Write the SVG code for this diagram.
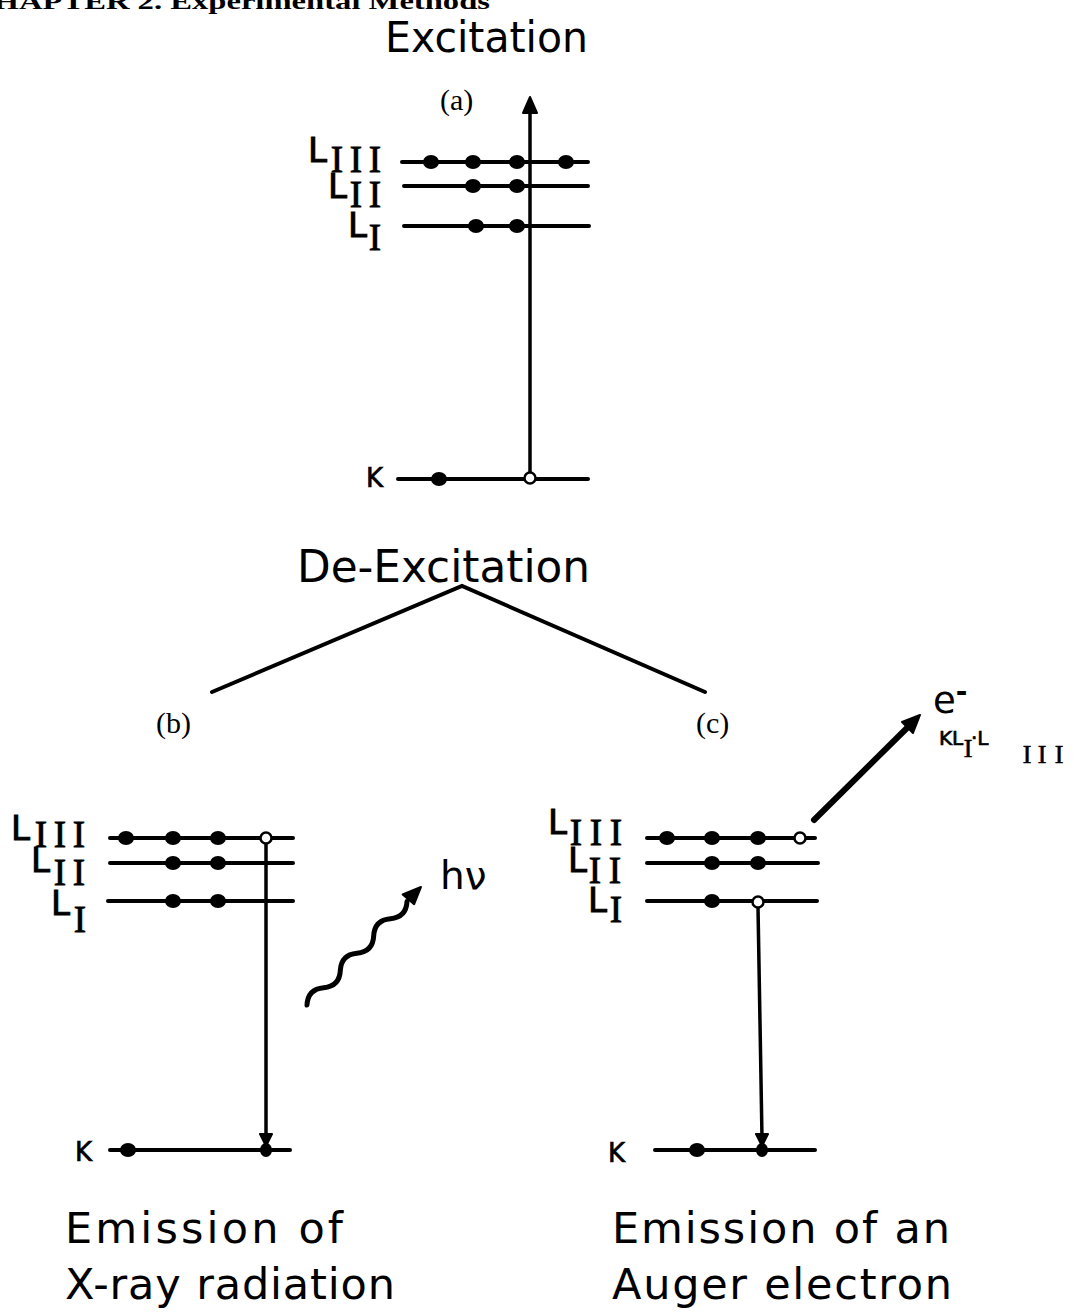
<svg xmlns="http://www.w3.org/2000/svg" width="1075" height="1315" viewBox="0 0 1075 1315">
<style>
.lv{stroke:#000;stroke-width:4;stroke-linecap:round;fill:none}
.tr{stroke:#000;stroke-width:3.5;fill:none}
.dot{fill:#000}
.hole{fill:#fff;stroke:#000;stroke-width:2.5}
.lab{font-family:"DejaVu Sans",sans-serif;font-size:34px;fill:#000;stroke:#000;stroke-width:1}
.rn{font-family:"Liberation Serif",serif;font-size:37px;text-anchor:middle;stroke:#000;stroke-width:0.9}
.rn2{font-family:"Liberation Serif",serif;font-size:26px;text-anchor:middle;stroke:#000;stroke-width:0.6}
.sans{font-family:"DejaVu Sans",sans-serif;fill:#000}
.kl{stroke:#000;stroke-width:0.7}
.serif{font-family:"Liberation Serif",serif;fill:#000}
.head{fill:#000;stroke:#000;stroke-width:2;stroke-linejoin:round}
</style>
<rect width="1075" height="1315" fill="#fff"/>
<text class="serif" x="-30" y="9" font-size="24" font-weight="bold" textLength="520" lengthAdjust="spacingAndGlyphs">CHAPTER 2. Experimental Methods</text>

<g id="title-excitation">
<text class="sans" x="385" y="52" font-size="42" textLength="203" lengthAdjust="spacingAndGlyphs">Excitation</text>
</g>

<g id="panel-a">
<text class="serif" x="440" y="110" font-size="30">(a)</text>
<line class="lv" x1="402" y1="162" x2="588" y2="162"/>
<line class="lv" x1="404" y1="186" x2="588" y2="186"/>
<line class="lv" x1="404" y1="226" x2="589" y2="226"/>
<line class="lv" x1="398" y1="479" x2="588" y2="479"/>
<ellipse class="dot" cx="431" cy="162" rx="8" ry="7"/>
<ellipse class="dot" cx="473" cy="162" rx="8" ry="7"/>
<ellipse class="dot" cx="517" cy="162" rx="8" ry="7"/>
<ellipse class="dot" cx="566" cy="162" rx="8" ry="7"/>
<ellipse class="dot" cx="473" cy="186" rx="8" ry="7"/>
<ellipse class="dot" cx="517" cy="186" rx="8" ry="7"/>
<ellipse class="dot" cx="476" cy="226" rx="8" ry="7"/>
<ellipse class="dot" cx="517" cy="226" rx="8" ry="7"/>
<ellipse class="dot" cx="439" cy="479" rx="8" ry="7"/>
<line class="tr" x1="530" y1="473" x2="530" y2="110"/>
<path class="head" d="M530,97 L537,113 L523,113 Z"/>
<circle class="hole" cx="530" cy="478" r="5.5"/>
<text class="lab" x="308" y="162">L<tspan class="rn" x="337" y="172">I</tspan><tspan class="rn" x="356">I</tspan><tspan class="rn" x="375">I</tspan></text>
<text class="lab" x="328" y="198">L<tspan class="rn" x="356" y="207">I</tspan><tspan class="rn" x="375">I</tspan></text>
<text class="lab" x="348" y="237">L<tspan class="rn" x="375" y="250">I</tspan></text>
<text class="sans kl" x="366" y="487" font-size="26">K</text>
</g>

<g id="title-deexcitation">
<text class="sans" x="297" y="582" font-size="44" textLength="293" lengthAdjust="spacingAndGlyphs">De-Excitation</text>
</g>

<g id="connectors">
<polyline class="lv" points="212,692 462,586 705,692"/>
</g>

<g id="panel-b">
<text class="serif" x="156" y="733" font-size="30">(b)</text>
<line class="lv" x1="110" y1="838" x2="293" y2="838"/>
<line class="lv" x1="110" y1="863" x2="293" y2="863"/>
<line class="lv" x1="108" y1="901" x2="293" y2="901"/>
<line class="lv" x1="110" y1="1150" x2="290" y2="1150"/>
<ellipse class="dot" cx="126" cy="838" rx="8" ry="7"/>
<ellipse class="dot" cx="173" cy="838" rx="8" ry="7"/>
<ellipse class="dot" cx="218" cy="838" rx="8" ry="7"/>
<ellipse class="dot" cx="173" cy="863" rx="8" ry="7"/>
<ellipse class="dot" cx="218" cy="863" rx="8" ry="7"/>
<ellipse class="dot" cx="173" cy="901" rx="8" ry="7"/>
<ellipse class="dot" cx="218" cy="901" rx="8" ry="7"/>
<ellipse class="dot" cx="128" cy="1150" rx="8" ry="7"/>
<line class="tr" x1="266" y1="843" x2="266" y2="1138"/>
<path class="head" d="M266,1146 L260,1134 L272,1134 Z"/>
<ellipse class="dot" cx="266" cy="1150" rx="6" ry="7"/>
<circle class="hole" cx="266" cy="838" r="5.5"/>
<text class="lab" x="11" y="840">L<tspan class="rn" x="41" y="847">I</tspan><tspan class="rn" x="60">I</tspan><tspan class="rn" x="79">I</tspan></text>
<text class="lab" x="31" y="872">L<tspan class="rn" x="60" y="885">I</tspan><tspan class="rn" x="79">I</tspan></text>
<text class="lab" x="51" y="915">L<tspan class="rn" x="80" y="932">I</tspan></text>
<text class="sans kl" x="75" y="1161" font-size="26">K</text>
<path stroke="#000" stroke-width="5" fill="none" stroke-linecap="round" transform="translate(307,1005) rotate(-46)" d="M0,0 c8,-7 16,-7 24,0 s16,7 24,0 s16,-7 24,0 s16,7 24,0 s16,-7 24,0 s16,7 24,0"/>
<path class="head" transform="translate(307,1005) rotate(-46)" d="M164,0 L146,-8 L147,7 Z"/>
<text class="sans" x="440" y="889" font-size="39">hν</text>
</g>

<g id="panel-c">
<text class="serif" x="696" y="733" font-size="30">(c)</text>
<line class="lv" x1="647" y1="838" x2="815" y2="838"/>
<line class="lv" x1="647" y1="863" x2="818" y2="863"/>
<line class="lv" x1="647" y1="901" x2="817" y2="901"/>
<line class="lv" x1="655" y1="1150" x2="815" y2="1150"/>
<ellipse class="dot" cx="667" cy="838" rx="8" ry="7"/>
<ellipse class="dot" cx="712" cy="838" rx="8" ry="7"/>
<ellipse class="dot" cx="758" cy="838" rx="8" ry="7"/>
<ellipse class="dot" cx="712" cy="863" rx="8" ry="7"/>
<ellipse class="dot" cx="758" cy="863" rx="8" ry="7"/>
<ellipse class="dot" cx="712" cy="901" rx="8" ry="7"/>
<ellipse class="dot" cx="697" cy="1150" rx="8" ry="7"/>
<line class="tr" x1="758" y1="907" x2="762" y2="1138"/>
<path class="head" d="M762,1146 L756,1134 L768,1134 Z"/>
<ellipse class="dot" cx="762" cy="1150" rx="6" ry="7"/>
<circle class="hole" cx="758" cy="902" r="5.5"/>
<circle class="hole" cx="800" cy="838" r="5.5"/>
<text class="lab" x="548" y="834">L<tspan class="rn" x="576" y="845">I</tspan><tspan class="rn" x="596">I</tspan><tspan class="rn" x="616">I</tspan></text>
<text class="lab" x="568" y="872">L<tspan class="rn" x="595" y="883">I</tspan><tspan class="rn" x="615">I</tspan></text>
<text class="lab" x="588" y="912">L<tspan class="rn" x="616" y="922">I</tspan></text>
<text class="sans kl" x="608" y="1162" font-size="26">K</text>
<line x1="814" y1="820" x2="907" y2="728" stroke="#000" stroke-width="6" stroke-linecap="round"/>
<path class="head" d="M920,715 L902,722 L913,733 Z"/>
<text class="sans" x="933" y="713" font-size="37">e<tspan dy="-12" font-size="28" font-weight="bold">-</tspan></text>
<text class="sans kl" x="939" y="745" font-size="20">KL<tspan class="rn2" x="968" y="757">I</tspan><tspan x="971" y="745">·L</tspan><tspan class="rn2" x="1027" y="763">I</tspan><tspan class="rn2" x="1042">I</tspan><tspan class="rn2" x="1059">I</tspan></text>
</g>

<g id="caption-b">
<text class="sans" x="65" y="1243" font-size="43" textLength="278" lengthAdjust="spacing">Emission of</text>
<text class="sans" x="65" y="1299" font-size="43" textLength="330" lengthAdjust="spacing">X-ray radiation</text>
</g>
<g id="caption-c">
<text class="sans" x="612" y="1243" font-size="43" textLength="338" lengthAdjust="spacing">Emission of an</text>
<text class="sans" x="612" y="1299" font-size="43" textLength="340" lengthAdjust="spacing">Auger electron</text>
</g>
</svg>
